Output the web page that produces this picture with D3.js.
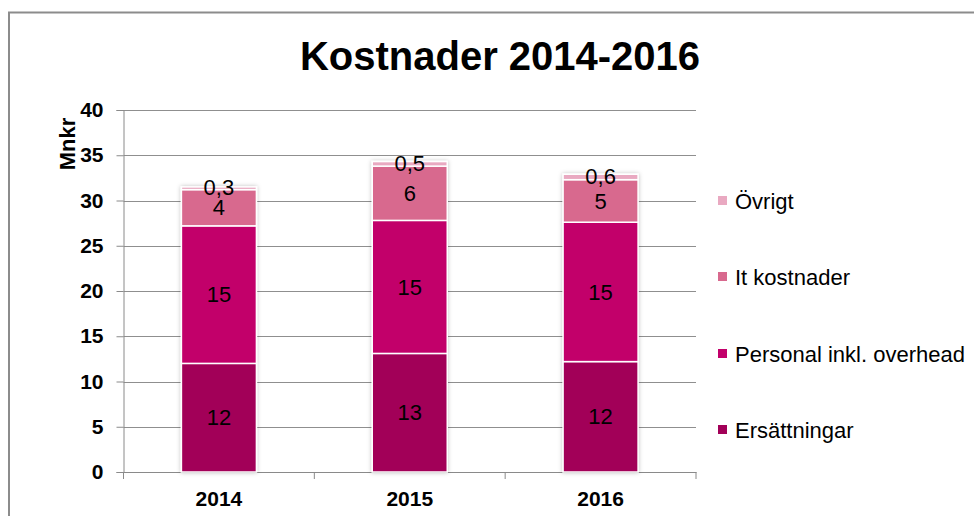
<!DOCTYPE html>
<html>
<head>
<meta charset="utf-8">
<style>
body { margin: 0; background: #fff; }
text { font-family: "Liberation Sans", Arial, sans-serif; }
</style>
</head>
<body>
<svg id="chart"></svg>
<script src="https://d3js.org/d3.v7.min.js"></script>
<script>
// data
var years = ['2014', '2015', '2016'];
var seriesNames = ['Ersättningar', 'Personal inkl. overhead', 'It kostnader', 'Övrigt'];
var ersattningar = [12.0, 13.1, 12.2];
var personal = [15.2, 14.7, 15.4];
var itKostnader = [4.0, 6.0, 4.7];
var ovrigt = [0.3, 0.5, 0.6];
var yTicks = [0, 5, 10, 15, 20, 25, 30, 35, 40];
var colors = ['#a20058', '#c2006b', '#d8698e', '#e9a9c1'];

var width = 974, height = 516;
var plot = { left: 123.5, right: 696, top: 110, bottom: 472 };
var fontFam = '"Liberation Sans", Arial, sans-serif';

var svg = d3.select('#chart')
  .attr('width', width)
  .attr('height', height);

var defs = svg.append('defs');
var f = defs.append('filter').attr('id', 'shadow')
  .attr('x', '-20%').attr('y', '-5%').attr('width', '140%').attr('height', '110%');
f.append('feDropShadow').attr('dx', 0).attr('dy', 0).attr('stdDeviation', 2)
  .attr('flood-color', '#000').attr('flood-opacity', 0.25);

// outer frame
svg.append('rect')
  .attr('x', 9).attr('y', 12.5)
  .attr('width', 1000).attr('height', 600)
  .attr('fill', 'none').attr('stroke', '#8c8c8c').attr('stroke-width', 2);

// title
svg.append('text')
  .attr('x', 500).attr('y', 70)
  .attr('text-anchor', 'middle')
  .attr('font-size', 40).attr('font-weight', 'bold')
  .text('Kostnader 2014-2016');

var table = years.map(function(y, i) {
  return { year: y, 'Ersättningar': ersattningar[i], 'Personal inkl. overhead': personal[i],
           'It kostnader': itKostnader[i], 'Övrigt': ovrigt[i] };
});
var stack = d3.stack().keys(seriesNames)(table);

var x = d3.scaleBand().domain(years).range([plot.left, plot.right]).paddingInner(0).paddingOuter(0);
var y = d3.scaleLinear().domain([0, 40]).range([plot.bottom, plot.top]);

// gridlines
svg.append('g').selectAll('line')
  .data(yTicks.filter(function(d) { return d > 0; }))
  .enter().append('line')
  .attr('x1', plot.left).attr('x2', plot.right)
  .attr('y1', function(d) { return Math.round(y(d)) + 0.5; })
  .attr('y2', function(d) { return Math.round(y(d)) + 0.5; })
  .attr('stroke', '#8f8f8f').attr('stroke-width', 1);

// y axis
var yAxis = d3.axisLeft(y).tickValues(yTicks).tickSize(7).tickPadding(13);
var gy = svg.append('g')
  .attr('transform', 'translate(' + plot.left + ',0)')
  .call(yAxis);
gy.selectAll('path, line').attr('stroke', '#8a8a8a');
gy.selectAll('text').attr('font-size', 21).attr('font-weight', 'bold')
  .attr('fill', '#000').attr('font-family', fontFam);

// x axis
var gx = svg.append('g')
  .attr('transform', 'translate(0,' + plot.bottom + ')')
  .call(d3.axisBottom(x).tickSize(0).tickPadding(19));
gx.select('.domain').attr('stroke', '#8a8a8a');
gx.selectAll('text').attr('font-size', 21).attr('font-weight', 'bold')
  .attr('fill', '#000').attr('font-family', fontFam);
// category separator ticks
var bounds = years.map(function(d) { return x(d); }).concat([plot.right]);
gx.selectAll('.sep').data(bounds).enter().append('line')
  .attr('class', 'sep')
  .attr('x1', function(d) { return d; }).attr('x2', function(d) { return d; })
  .attr('y1', 0).attr('y2', 7)
  .attr('stroke', '#8a8a8a');

// y axis title
svg.append('text')
  .attr('transform', 'translate(75,144) rotate(-90)')
  .attr('text-anchor', 'middle')
  .attr('font-size', 22).attr('font-weight', 'bold')
  .text('Mnkr');

// bars
var barW = 75;
var bars = svg.append('g').attr('filter', 'url(#shadow)');
stack.forEach(function(layer, li) {
  bars.selectAll('.s' + li).data(layer).enter().append('rect')
    .attr('x', function(d) { return x(d.data.year) + x.bandwidth() / 2 - barW / 2; })
    .attr('y', function(d) { return y(d[1]); })
    .attr('width', barW)
    .attr('height', function(d) { return y(d[0]) - y(d[1]); })
    .attr('fill', colors[li])
    .attr('stroke', '#fff').attr('stroke-width', 1.5);
});

// value labels
function fmt(v) {
  return v < 1 ? d3.format('.1f')(v).replace('.', ',') : d3.format('.0f')(v);
}
stack.forEach(function(layer, li) {
  svg.append('g').selectAll('text').data(layer).enter().append('text')
    .attr('x', function(d) { return x(d.data.year) + x.bandwidth() / 2; })
    .attr('y', function(d) { return (y(d[0]) + y(d[1])) / 2 + (li === 3 ? -1 : 0); })
    .attr('dy', '0.35em')
    .attr('text-anchor', 'middle')
    .attr('font-size', 22)
    .attr('fill', '#000')
    .text(function(d) { return fmt(d[1] - d[0]); });
});

// legend
var legendY = [430, 354, 277, 201];
var lg = svg.append('g');
seriesNames.forEach(function(name, i) {
  lg.append('rect')
    .attr('x', 718).attr('y', legendY[i] - 5)
    .attr('width', 9).attr('height', 9)
    .attr('fill', colors[i]);
  lg.append('text')
    .attr('x', 735).attr('y', legendY[i])
    .attr('dy', '0.35em')
    .attr('font-size', 22)
    .text(name);
});
</script>
</body>
</html>
